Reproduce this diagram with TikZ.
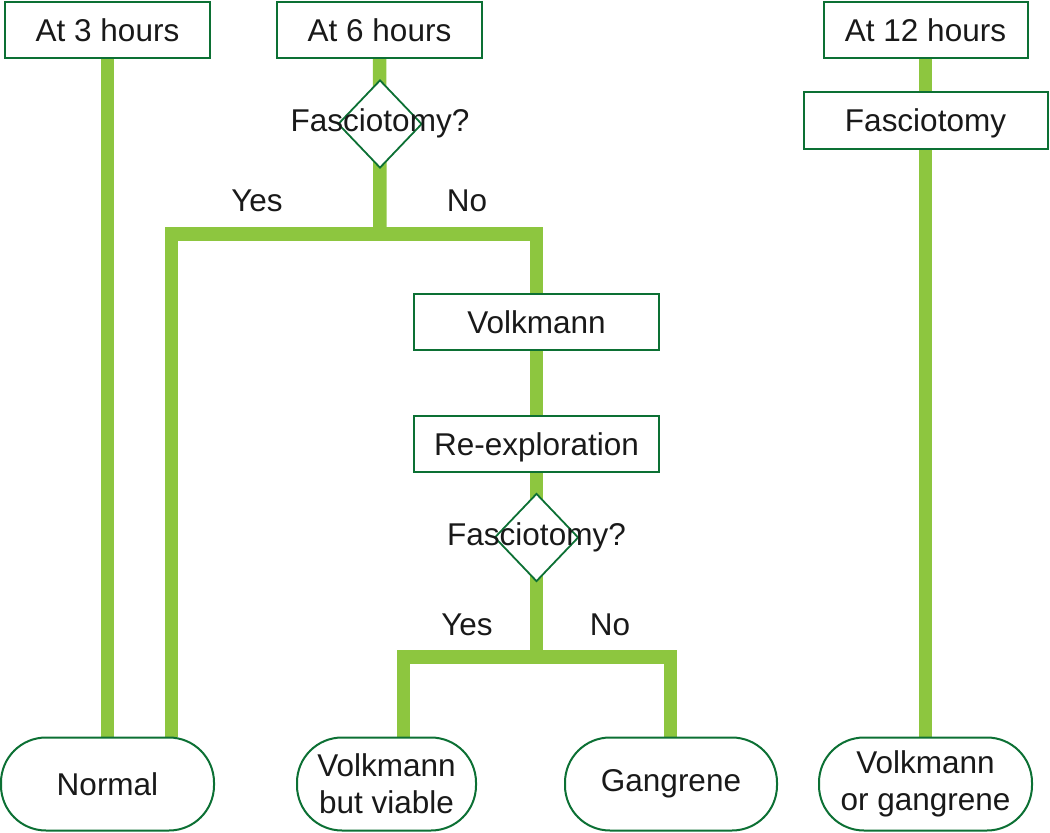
\documentclass[tikz,border=0pt]{standalone}
\usepackage{fontspec}
\setmainfont{Liberation Sans}
\usetikzlibrary{shapes.geometric}
\pgfdeclarelayer{bg}
\pgfsetlayers{bg,main}
\definecolor{lgreen}{RGB}{141,198,63}
\definecolor{dgreen}{RGB}{12,112,52}
\begin{document}
\begin{tikzpicture}[x=1pt,y=-1pt,
  txt/.style={font=\fontsize{31.5}{37}\selectfont, text=black!90, align=center},
  box/.style={txt, draw=dgreen, line width=2pt, fill=white, inner sep=0pt, minimum height=56pt, text depth=0pt},
  endbox/.style={txt, draw=dgreen, line width=2pt, fill=white, inner sep=0pt, minimum height=93pt, rounded corners=45pt},
  decision/.style={diamond, draw=dgreen, line width=1.8pt, fill=white, inner sep=0pt, minimum width=84pt, minimum height=88pt},
  link/.style={draw=lgreen, line width=13.5pt, line join=miter}]
\useasboundingbox (0,0) rectangle (1050,833);
% nodes
\node[box, minimum width=205pt] (h3) at (107.5,30) {At 3 hours};
\node[box, minimum width=205pt] (h6) at (379.5,30) {At 6 hours};
\node[box, minimum width=204pt] (h12) at (925.5,30) {At 12 hours};
\node[box, minimum width=244pt, minimum height=57pt] (fas) at (925.5,120) {Fasciotomy};
\node[decision] (d1) at (380,124) {};
\node[txt] (t1) at (380,123) {Fasciotomy?};
\node[box, minimum width=245pt] (volk) at (536.5,322) {Volkmann};
\node[box, minimum width=245pt] (rex) at (536.5,444) {Re-exploration};
\node[decision] (d2) at (536.5,537.5) {};
\node[txt] (t2) at (536.5,537) {Fasciotomy?};
\node[endbox, minimum width=213pt] (normal) at (107.5,784) {Normal};
\node[endbox, minimum width=179pt] (vbv) at (386.5,784) {Volkmann\\but viable};
\node[endbox, minimum width=212pt] (gang) at (671,784) {Gangrene};
\node[endbox, minimum width=213pt] (vog) at (925.5,784) {Volkmann\\or gangrene};
\node[txt] (yes1) at (257,201) {Yes};
\node[txt] (no1) at (467,201) {No};
\node[txt] (yes2) at (467,625) {Yes};
\node[txt] (no2) at (610,625) {No};
\coordinate (j1) at (380,234);
\coordinate (y1) at (171.5,234);
\coordinate (j2) at (536.5,657);
\coordinate (y2) at (403.5,657);
\coordinate (n2) at (670.5,657);
% connectors
\begin{pgfonlayer}{bg}
\draw[link] (h3.south) -- (normal.north);
\draw[link] (h6.south) -- (j1);
\draw[link] (y1 |- normal.north) -- (y1) -- (volk.north |- y1) -- (volk.north);
\draw[link] (volk.south) -- (rex.north);
\draw[link] (rex.south) -- (j2);
\draw[link] (y2 |- vbv.north) -- (y2) -- (n2) -- (n2 |- gang.north);
\draw[link] (h12.south) -- (fas.north);
\draw[link] (fas.south) -- (vog.north);
\end{pgfonlayer}
\end{tikzpicture}
\end{document}
